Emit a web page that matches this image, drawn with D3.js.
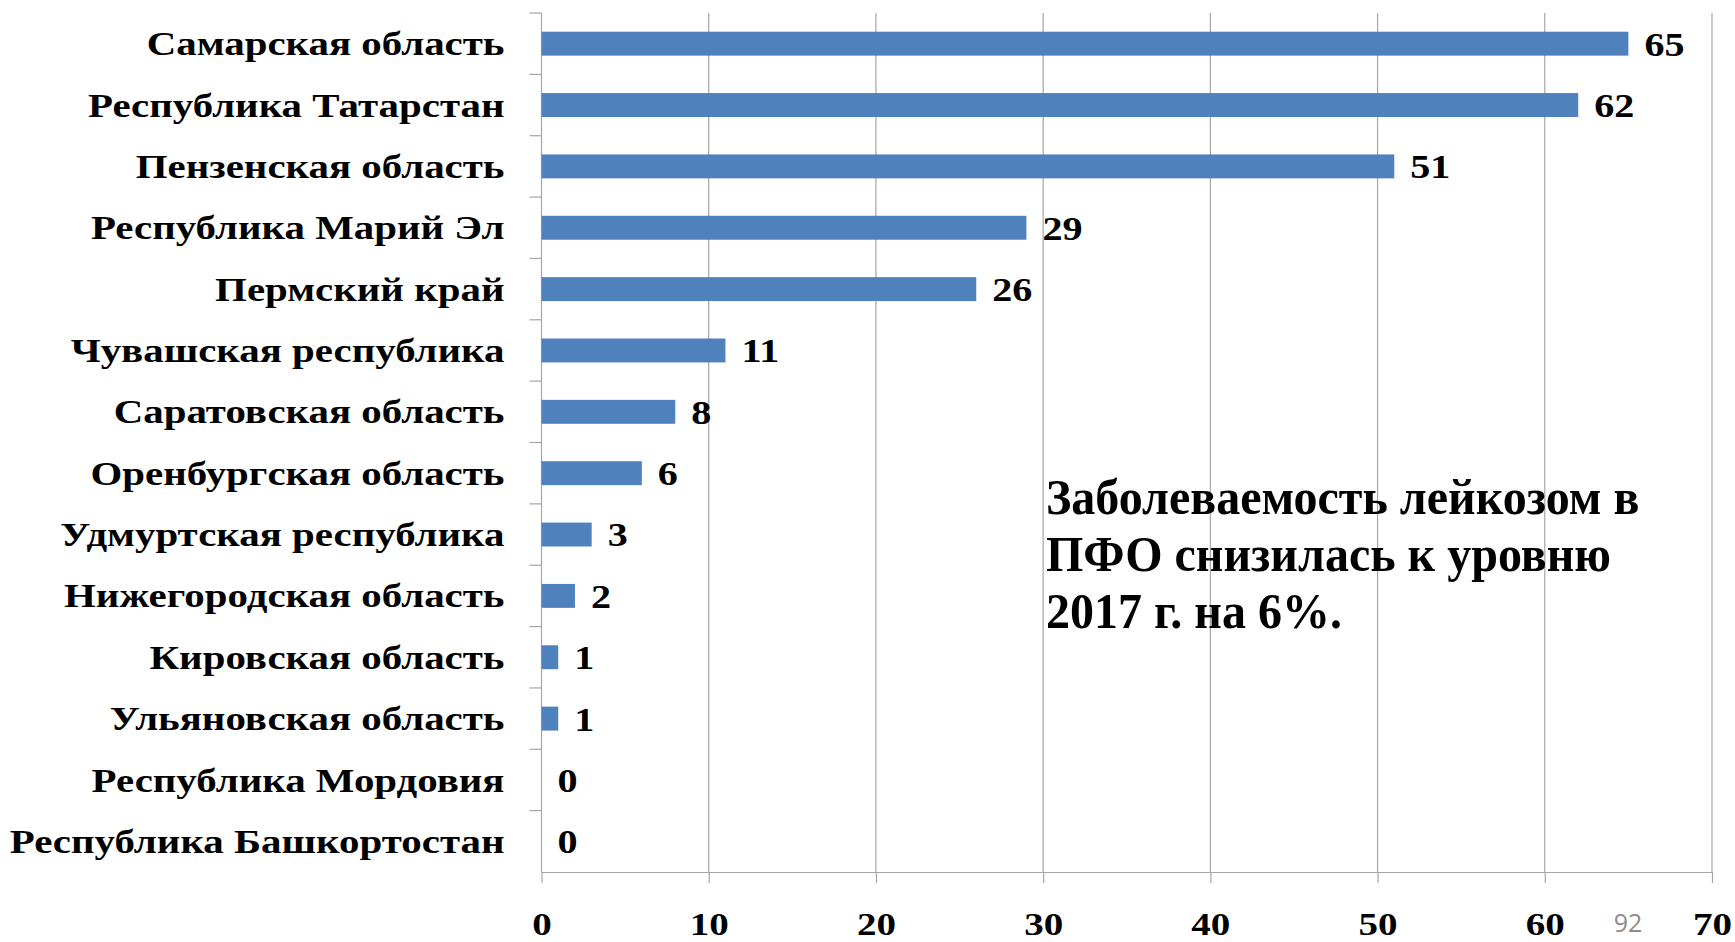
<!DOCTYPE html>
<html>
<head>
<meta charset="utf-8">
<script src="https://cdn.jsdelivr.net/npm/d3@7"></script>
<style>
  body { margin: 0; background: #fff; }
  .axis path, .axis line { stroke: #a6a6a6; }
  text { font-family: "Liberation Serif", "Times New Roman", serif; font-weight: bold; }
</style>
</head>
<body>
<svg width="1735" height="942"></svg>
<script>
const regions = [
  "Самарская область",
  "Республика Татарстан",
  "Пензенская область",
  "Республика Марий Эл",
  "Пермский край",
  "Чувашская республика",
  "Саратовская область",
  "Оренбургская область",
  "Удмуртская республика",
  "Нижегородская область",
  "Кировская область",
  "Ульяновская область",
  "Республика Мордовия",
  "Республика Башкортостан"
];
const cases = [65, 62, 51, 29, 26, 11, 8, 6, 3, 2, 1, 1, 0, 0];
const xTicks = [0, 10, 20, 30, 40, 50, 60, 70];
const noteLines = [
  "Заболеваемость лейкозом в",
  "ПФО снизилась к уровню",
  "2017 г. на 6%."
];
const pageNumber = "92";

const data = regions.map((r, i) => ({ region: r, value: cases[i] }));

const svg = d3.select("svg"),
  margin = { top: 13, right: 23, bottom: 70, left: 541.5 },
  width = +svg.attr("width") - margin.left - margin.right,
  height = +svg.attr("height") - margin.top - margin.bottom,
  g = svg.append("g").attr("transform", `translate(${margin.left},${margin.top})`);

const x = d3.scaleLinear().domain([0, 70]).range([0, width]);
const y = d3.scaleBand().domain(regions).range([0, height]).paddingInner(0.61).paddingOuter(0.305);

// vertical gridlines
g.selectAll(".grid")
  .data(xTicks.slice(1))
  .enter()
  .append("line")
  .attr("class", "grid")
  .attr("x1", (d) => x(d))
  .attr("x2", (d) => x(d))
  .attr("y1", 0)
  .attr("y2", height)
  .attr("stroke", "#a6a6a6")
  .attr("stroke-width", 1.2);

// x axis
const xAxis = g.append("g")
  .attr("class", "axis")
  .attr("transform", `translate(0,${height})`)
  .call(d3.axisBottom(x).tickValues(xTicks).tickSize(11).tickSizeOuter(0).tickPadding(0));
xAxis.selectAll("text")
  .attr("font-size", 32)
  .attr("fill", "#000")
  .attr("y", 0)
  .attr("dy", null)
  .attr("transform", "translate(0,63) scale(1.22,1)");
xAxis.selectAll("path, line").attr("stroke-width", 1.2);

// y axis with ticks at category boundaries
const yAxis = g.append("g").attr("class", "axis");
yAxis.append("line")
  .attr("x1", 0).attr("x2", 0)
  .attr("y1", 0).attr("y2", height)
  .attr("stroke", "#a6a6a6").attr("stroke-width", 1.2);
const step = y.step();
yAxis.selectAll(".ytick")
  .data(d3.range(regions.length))
  .enter()
  .append("line")
  .attr("x1", -12).attr("x2", 0)
  .attr("y1", (i) => i * step).attr("y2", (i) => i * step)
  .attr("stroke", "#a6a6a6").attr("stroke-width", 1.2);

yAxis.selectAll(".ylabel")
  .data(regions)
  .enter()
  .append("text")
  .attr("transform", (d) => `translate(-37,${y(d) + y.bandwidth() / 2}) scale(1.24,1)`)
  .attr("dy", "0.35em")
  .attr("text-anchor", "end")
  .attr("font-size", 33)
  .text((d) => d);

// bars
g.selectAll(".bar")
  .data(data)
  .enter()
  .append("rect")
  .attr("class", "bar")
  .attr("x", 0)
  .attr("y", (d) => y(d.region))
  .attr("width", (d) => x(d.value))
  .attr("height", y.bandwidth())
  .attr("fill", "#4f81bd");

// value labels
g.selectAll(".value")
  .data(data)
  .enter()
  .append("text")
  .attr("transform", (d) => `translate(${x(d.value) + 16},${y(d.region) + y.bandwidth() / 2}) scale(1.18,1)`)
  .attr("dy", "0.35em")
  .attr("font-size", 34)
  .text((d) => d.value);

// annotation
const note = svg.append("text")
  .attr("font-size", 50)
  .attr("transform", "translate(1046,514) scale(0.96,1)");
note.selectAll("tspan")
  .data(noteLines)
  .enter()
  .append("tspan")
  .attr("x", 0)
  .attr("dy", (d, i) => (i === 0 ? 0 : 57))
  .text((d) => d);

// page number
svg.append("text")
  .attr("x", 1628)
  .attr("y", 932)
  .attr("text-anchor", "middle")
  .attr("font-size", 25)
  .attr("fill", "#8c8c8c")
  .style("font-family", "'Open Sans', sans-serif")
  .style("font-weight", "normal")
  .text(pageNumber);
</script>
</body>
</html>
